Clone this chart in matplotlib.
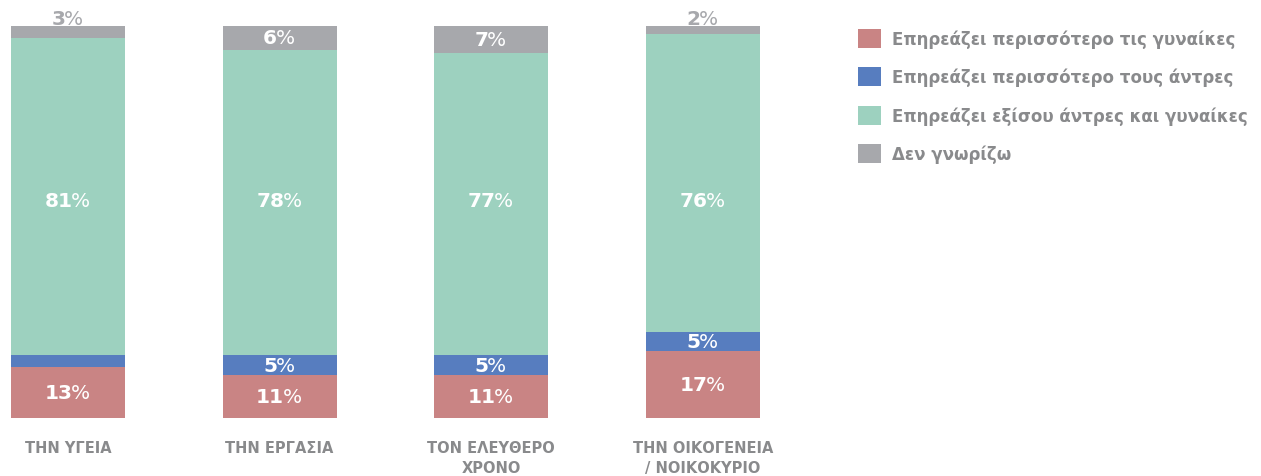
import numpy as np
import matplotlib
matplotlib.use('Agg')
import matplotlib.pyplot as plt

plt.rcParams['font.family'] = ['DejaVu Sans']

categories = ['ΤΗΝ ΥΓΕΙΑ', 'ΤΗΝ ΕΡΓΑΣΙΑ', 'ΤΟΝ ΕΛΕΥΘΕΡΟ\nΧΡΟΝΟ', 'ΤΗΝ ΟΙΚΟΓΕΝΕΙΑ\n/ ΝΟΙΚΟΚΥΡΙΟ']
series_names = ['Επηρεάζει περισσότερο τις γυναίκες',
                'Επηρεάζει περισσότερο τους άντρες',
                'Επηρεάζει εξίσου άντρες και γυναίκες',
                'Δεν γνωρίζω']
women = [13, 11, 11, 17]
men = [3, 5, 5, 5]
equal = [81, 78, 77, 76]
dontknow = [3, 6, 7, 2]

colors = ['#c98484', '#577dbf', '#9dd1bf', '#a7a8ac']
label_grey = '#898a8c'

W, H = 1261, 477
fig = plt.figure(figsize=(W/100, H/100), dpi=100)

# bar centres at px 68 + 211.67*i, bar area from y=27 to y=419
step = 211.67
ax = fig.add_axes([0, 58/H, 780/W, 392/H])
ax.set_xlim(-68/step, (780-68)/step)
ax.set_ylim(0, 100)

x = np.arange(len(categories))
width = 114/step
data = [women, men, equal, dontknow]
bottom = np.zeros(len(categories))
for k, (vals, name, c) in enumerate(zip(data, series_names, colors)):
    ax.bar(x, vals, width, bottom=bottom, color=c, label=name, linewidth=0)
    for i, v in enumerate(vals):
        if v >= 5:
            yc = bottom[i] + v/2
            if k == 2:
                yc = 55.6   # big middle labels all sit on one line
            col = 'white'
            va = 'center'
        elif k == 3:
            yc = bottom[i] + v - 0.6
            col = '#a7a8ac'
            va = 'bottom'
        else:
            continue
        num = ax.text(x[i] - 0.045, yc, str(v), ha='center', va=va, color=col,
                      fontsize=14.5, fontweight='bold')
        ax.annotate('%', xy=(1, 0), xycoords=num, xytext=(-1.2, 0),
                    textcoords='offset points', ha='left', va='bottom',
                    color=col, fontsize=14.5, fontweight='normal')
    bottom += np.array(vals)

ax.set_xticks(x)
ax.set_xticklabels(categories, fontsize=10.5, fontweight='bold', color=label_grey,
                   linespacing=1.4)
ax.tick_params(axis='x', length=0, pad=16)
ax.set_yticks([])
for s in ax.spines.values():
    s.set_visible(False)

leg = ax.legend(loc='upper left', bbox_to_anchor=(858/W, 1-30/H),
                bbox_transform=fig.transFigure, frameon=False, borderpad=0,
                borderaxespad=0, handlelength=1.35, handleheight=1.35,
                handletextpad=0.72, labelspacing=1.17,
                prop={'size': 12, 'weight': 'bold'})
for t in leg.get_texts():
    t.set_color(label_grey)

fig.savefig('out.png', dpi=100)
